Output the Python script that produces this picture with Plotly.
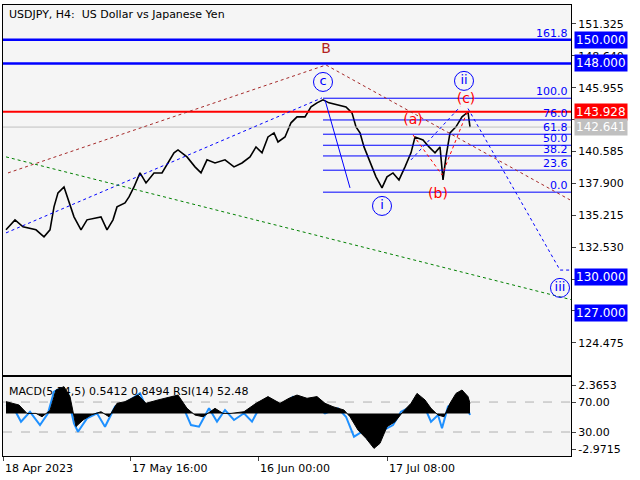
import plotly.graph_objects as go

price_x = [3,12,20,33,41,47,51,55,61,65,71,78,84,98,104,110,114,122,126,131,137,143,151,159,165,171,175,184,192,198,204,212,222,231,239,247,253,259,265,271,275,282,288,294,302,308,314,320,326,335,343,349,353,357,361,365,369,373,379,384,390,396,402,408,412,420,426,432,437,440,443,447,453,459,465,467]
price_y = [133.99,134.83,134.24,133.99,133.40,133.99,135.92,137.10,137.60,136.51,135.08,133.99,134.83,135.08,133.99,134.83,135.92,136.26,136.76,137.60,138.78,137.94,138.78,138.78,139.62,140.47,140.72,140.13,139.29,138.78,139.88,139.62,139.88,139.29,139.62,140.13,140.97,140.47,141.81,142.15,141.39,141.81,143.00,143.50,143.50,144.34,144.68,144.93,144.68,144.51,144.34,143.84,142.66,142.15,140.97,140.13,139.29,138.45,137.52,138.45,138.78,138.19,139.29,140.47,141.81,141.56,140.97,140.47,140.97,138.19,140.13,142.15,142.66,143.50,143.91,142.64]

macd_x = [3,16,24,33,39,47,53,61,67,73,80,88,98,106,114,122,135,143,155,167,175,184,192,200,212,220,228,241,253,265,277,286,294,304,314,322,330,341,347,355,363,371,377,384,392,400,408,414,422,428,435,441,447,453,459,465,467]
macd_y = [0.98,0.70,0,0,-0.28,0.25,1.95,2.23,1.4,-1.1,-0.55,-0.14,0.14,-0.28,0.84,0.98,1.53,0.84,1.12,1.4,1.53,0.42,-0.14,-0.28,0.42,0,0,0.14,0.84,1.4,0.84,1.26,1.53,1.26,1.4,0.84,0.56,0.28,-0.28,-1.39,-2.08,-2.92,-2.5,-1.11,-0.7,0.14,0.84,1.67,1.12,0.42,-0.14,-0.28,0.84,1.67,1.95,1.4,0.84]

rsi_x = [3,10,18,27,37,45,51,57,65,71,75,84,94,102,112,122,137,145,153,163,173,180,188,196,206,214,222,231,241,249,257,265,271,282,290,298,310,322,335,343,351,359,367,375,381,390,398,408,412,420,428,435,439,445,451,457,463,467]
rsi_y = [66,63.8,43.8,57,39.3,55,83.8,88.2,77,41.6,30.4,48.2,55,37.1,63.8,68.2,81.6,57.1,66,72.7,77,63.8,39.3,37.1,61.6,43.8,59.3,46,55,43.8,63.8,72.7,63.8,68.2,77,68.2,66,55,61.6,50.4,23.8,30.4,17.1,14.9,32.7,39.3,57.1,63.8,74.9,68.2,43.8,52.7,35,63.8,70.4,66,68.2,52.7]

fib_levels = [161.8,100.0,76.0,61.8,50.0,38.2,23.6,0.0]
fib_prices = [149.96,145.07,143.24,142.04,141.11,140.21,139.01,137.16]
price_ticks = [151.325,148.640,145.955,143.270,140.585,137.900,135.215,132.530,129.845,127.160,124.475]
date_ticks = [0,127,255,384]
date_labels = ["18 Apr 2023","17 May 16:00","16 Jun 00:00","17 Jul 08:00"]

BLUE = "#0000ff"
XR = [0, 568]
fig = go.Figure()
fig.add_trace(go.Scatter(x=price_x, y=price_y, mode="lines", line=dict(color="black", width=1.6), xaxis="x", yaxis="y"))

def seg(xs, ys, color, dash="dot", width=1):
    fig.add_trace(go.Scatter(x=xs, y=ys, mode="lines", line=dict(color=color, dash=dash, width=width), xaxis="x", yaxis="y"))

seg(XR, [150, 150], BLUE, "solid", 2.5)
seg(XR, [148, 148], BLUE, "solid", 2.5)
seg(XR, [143.928, 143.928], "#ff0000", "solid", 2)
seg(XR, [142.641, 142.641], "#c0c0c0", "solid", 1)
for lv, p in zip(fib_levels, fib_prices):
    if lv != 161.8:
        seg([320, 568], [p, p], BLUE, "solid", 1)
seg([5, 323, 567], [138.78, 147.87, 136.51], "#a52a2a")
seg([3, 319], [133.73, 145.1], BLUE)
seg([3, 569], [140.13, 128.09], "#008000")
seg([465, 557, 569], [144.2, 130.6, 130.6], BLUE)
seg([408, 457], [139.88, 144.34], BLUE)
seg([410, 439, 465], [141.98, 138.61, 144.09], "#ff0000")
seg([322, 347], [144.93, 137.52], BLUE, "solid", 1)

circ_x = [320, 461, 379, 557]
circ_y = [146.44, 146.53, 136.0, 129.1]
circ_t = ["c", "ii", "i", "iii"]
fig.add_trace(go.Scatter(x=circ_x, y=circ_y, mode="markers+text", text=circ_t,
    marker=dict(symbol="circle-open", size=19, color=BLUE, line=dict(width=1)),
    textfont=dict(color=BLUE, size=13, family="DejaVu Sans"), textposition="middle center", xaxis="x", yaxis="y"))
red_x = [323, 463, 410, 435]
red_y = [149.14, 144.93, 143.16, 136.93]
red_t = ["B", "(c)", "(a)", "(b)"]
fig.add_trace(go.Scatter(x=red_x, y=red_y, mode="text", text=red_t,
    textfont=dict(color=["#b22222", "#ff0000", "#ff0000", "#ff0000"], size=14, family="DejaVu Sans"), xaxis="x", yaxis="y"))

fig.add_trace(go.Scatter(x=macd_x, y=macd_y, mode="lines", fill="tozeroy", fillcolor="black",
    line=dict(color="black", width=1), xaxis="x2", yaxis="y3"))
fig.add_trace(go.Scatter(x=XR, y=[70, 70], mode="lines", line=dict(color="#b0b0b0", dash="dash", width=1), xaxis="x2", yaxis="y2"))
fig.add_trace(go.Scatter(x=XR, y=[30, 30], mode="lines", line=dict(color="#b0b0b0", dash="dash", width=1), xaxis="x2", yaxis="y2"))
fig.add_trace(go.Scatter(x=rsi_x, y=rsi_y, mode="lines", line=dict(color="#1e90ff", width=2), xaxis="x2", yaxis="y2"))

ann = []
for lv, p in zip(fib_levels, fib_prices):
    ann.append(dict(x=567, y=p, xref="x", yref="y", text=f"{lv:.1f}", showarrow=False,
        xanchor="right", yanchor="bottom", font=dict(color=BLUE, size=11), yshift=-2))
for val, bg in [(150.0, BLUE), (148.0, BLUE), (143.928, "#ff0000"), (142.641, "#c0c0c0"), (130.0, BLUE), (127.0, BLUE)]:
    ann.append(dict(x=1, y=val, xref="paper", yref="y", text=f"{val:.3f}", showarrow=False,
        xanchor="left", yanchor="middle", xshift=3, bgcolor=bg, font=dict(color="white", size=12), borderpad=1))
ann.append(dict(x=0, y=1, xref="paper", yref="paper", text="USDJPY, H4:  US Dollar vs Japanese Yen", showarrow=False,
    xanchor="left", yanchor="top", xshift=4, yshift=-1, font=dict(color="black", size=11)))
ann.append(dict(x=0, y=0.175, xref="paper", yref="paper", text="MACD(5,34,5) 0.5412 0.8494 RSI(14) 52.48", showarrow=False,
    xanchor="left", yanchor="top", xshift=4, yshift=-6, font=dict(color="black", size=11)))
for t, lab in zip(date_ticks, date_labels):
    ann.append(dict(x=t, y=0, xref="x2", yref="paper", text=lab, showarrow=False, xanchor="left", yanchor="top",
        xshift=0, yshift=-4, font=dict(color="black", size=11)))

fig.update_layout(
    width=640, height=480, margin=dict(l=3, r=69, t=5, b=24, autoexpand=False),
    paper_bgcolor="white", plot_bgcolor="#f5f5f5", showlegend=False,
    font=dict(family="DejaVu Sans", size=11, color="black"),
    annotations=ann,
    xaxis=dict(domain=[0, 1], range=XR, anchor="y", showticklabels=False, showgrid=False, zeroline=False,
               showline=True, mirror=True, linecolor="black", ticks=""),
    yaxis=dict(domain=[0.18, 1], range=[121.78, 152.92], side="right", tickvals=price_ticks,
               ticktext=[f"{v:.3f}" for v in price_ticks], ticks="outside", ticklen=4, showgrid=False, zeroline=False,
               showline=True, mirror=True, linecolor="black"),
    xaxis2=dict(domain=[0, 1], range=XR, anchor="y2", tickvals=date_ticks, showticklabels=False, ticks="outside",
                ticklen=4, showgrid=False, zeroline=False, showline=True, mirror=True, linecolor="black"),
    yaxis2=dict(domain=[0, 0.175], range=[-2, 103.3], side="right", tickvals=[70, 30], ticktext=["70.00", "30.00"],
                ticks="outside", ticklen=4, showgrid=False, zeroline=False, showline=True, mirror=True, linecolor="black", anchor="x2"),
    yaxis3=dict(range=[-3.555, 3.03], overlaying="y2", side="right", anchor="x2", tickvals=[2.3653, -2.9715],
                ticktext=["2.3653", "-2.9715"], ticks="outside", ticklen=4, showgrid=False, zeroline=False),
)
fig.write_html("out.html", config={"displayModeBar": False},
               post_script="document.body.style.margin='0';document.body.style.overflow='hidden';")
